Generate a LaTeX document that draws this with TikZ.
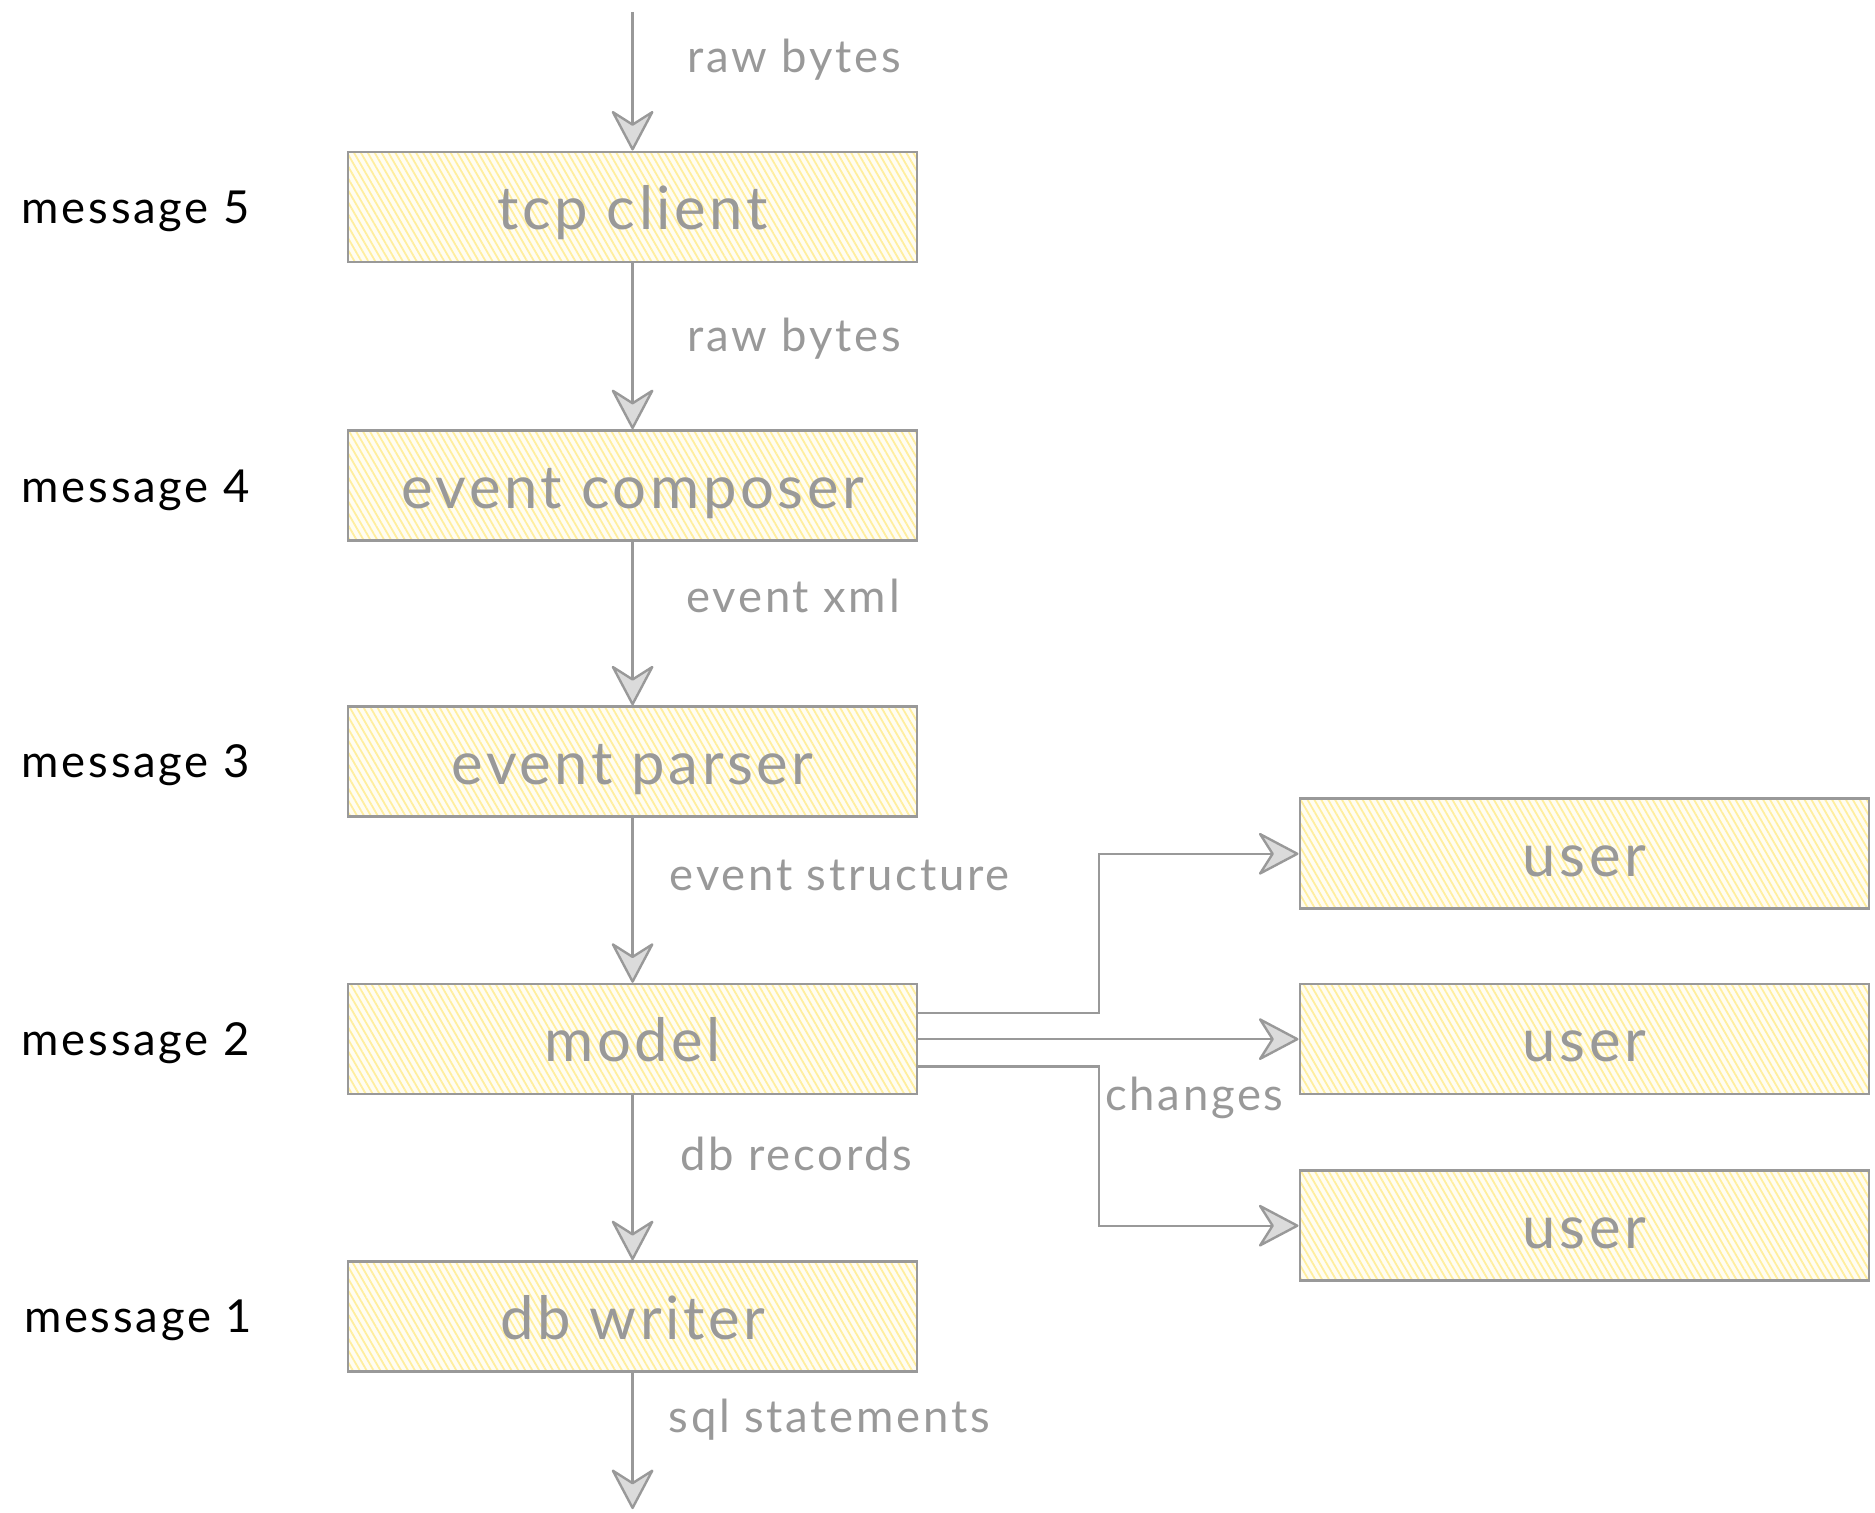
\documentclass[tikz,border=0pt]{standalone}
\usepackage{fontspec}
\setmainfont{Lato}[LetterSpace=6]
\usetikzlibrary{arrows.meta,patterns.meta}

\definecolor{ink}{HTML}{999999}
\definecolor{hatch}{HTML}{FFEE9E}
\definecolor{pale}{HTML}{FFFDF2}

\tikzset{
  stage/.style={draw=ink, line width=2.2pt,
    preaction={fill=pale},
    preaction={pattern={Lines[angle=-60, distance=5pt, line width=1.5pt]}, pattern color=hatch},
    minimum width=476pt, minimum height=92pt, inner sep=0pt,
    text height=44pt, text depth=6pt,
    font=\fontsize{50}{56}\selectfont, text=ink},
  flow/.style={draw=ink, line width=2pt,
    -{Stealth[length=36pt, width=38pt, inset=12pt, fill=ink!35, line width=2pt, round]}},
  tag/.style={font=\fontsize{38}{44}\selectfont, text=ink, anchor=west, inner sep=0pt},
  msg/.style={font=\fontsize{38}{44}\selectfont, text=black, anchor=west, inner sep=0pt},
}

\begin{document}
\begin{tikzpicture}[x=1pt, y=-1pt]
\useasboundingbox (0,0) rectangle (1568,1265);

% pipeline stages
\node[stage] (tcp)  at (529,173)  {tcp client};
\node[stage] (comp) at (529,406)  {event composer};
\node[stage] (pars) at (529,637)  {event parser};
\node[stage] (mod)  at (529,869)  {model};
\node[stage] (db)   at (529,1101) {db writer};

% subscribers
\node[stage] (u1) at (1325,714)  {user};
\node[stage] (u2) at (1325,869)  {user};
\node[stage] (u3) at (1325,1025) {user};

% open ends
\coordinate (in)  at (529,10);
\coordinate (out) at (529,1262);

% message levels
\node[msg] at (18,177)  {message 5};
\node[msg] at (18,410)  {message 4};
\node[msg] at (18,640)  {message 3};
\node[msg] at (18,872)  {message 2};
\node[msg] at (20,1104) {message 1};

% main flow
\draw[flow] (in) -- (tcp.north);
\draw[flow] (tcp.south) -- (comp.north);
\draw[flow] (comp.south) -- (pars.north);
\draw[flow] (pars.south) -- (mod.north);
\draw[flow] (mod.south) -- (db.north);
\draw[flow] (db.south) -- (out);

% flow labels
\node[tag] at (575,50)   {raw bytes};
\node[tag] at (575,283)  {raw bytes};
\node[tag] at (574,498)  {event xml};
\node[tag] at (560,732)  {event structure};
\node[tag] at (569,965)  {db records};
\node[tag] at (559,1187) {sql statements};

% fan-out of changes
\coordinate (m1) at (mod.east |- 0,847);
\coordinate (m3) at (mod.east |- 0,892);
\draw[flow] (m1) -- (919,847) |- (u1.west);
\draw[flow] (mod.east) -- (u2.west);
\draw[flow] (m3) -- (919,892) |- (u3.west);
\node[tag] at (924,918) {changes};
\end{tikzpicture}
\end{document}
